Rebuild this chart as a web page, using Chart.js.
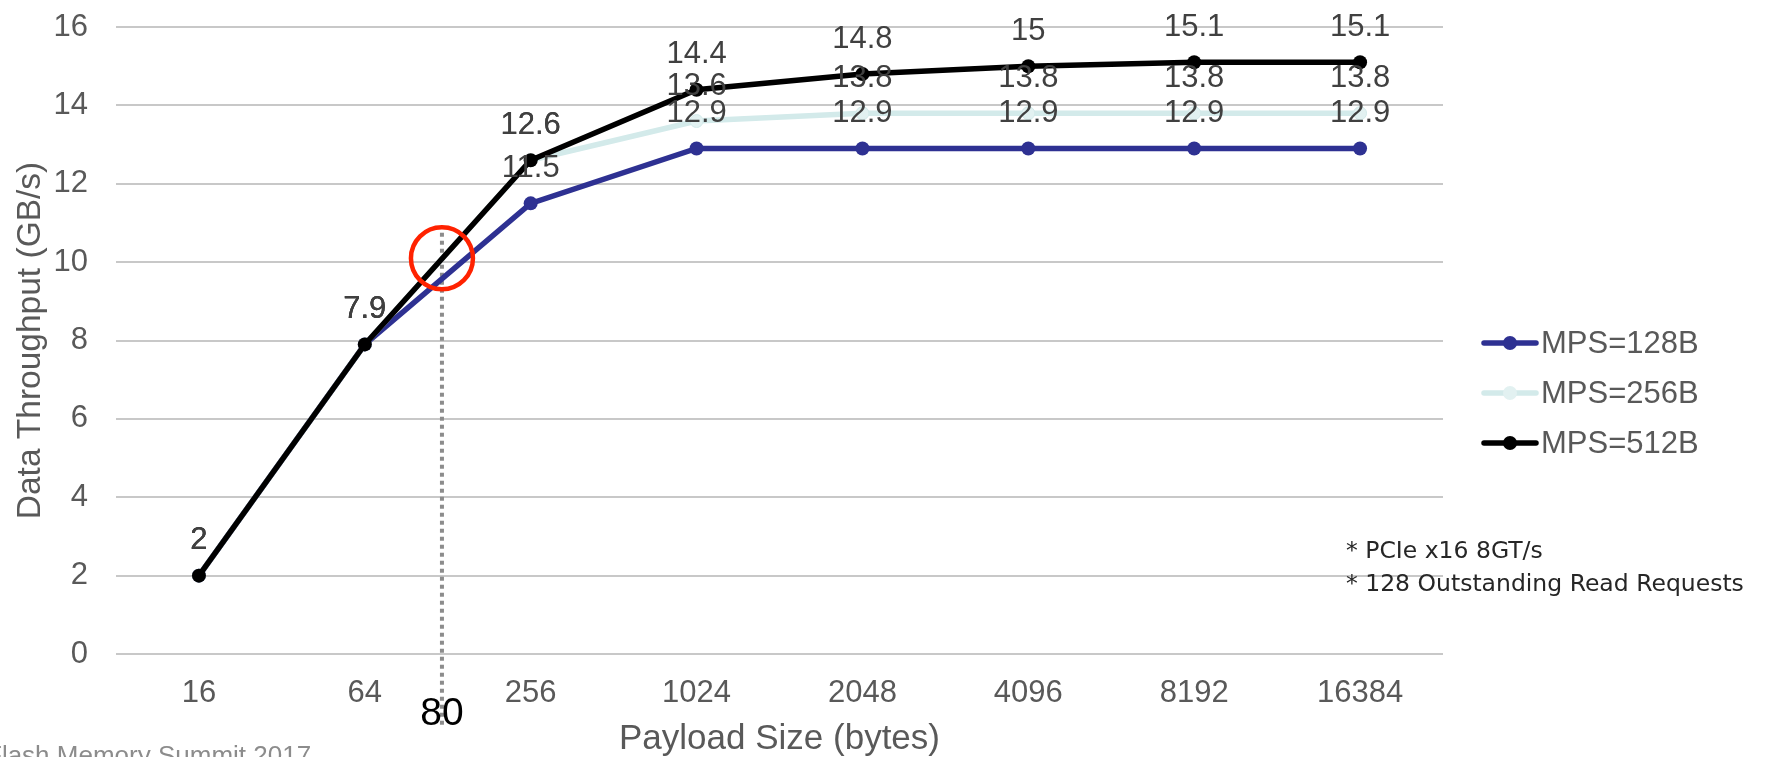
<!DOCTYPE html>
<html>
<head>
<meta charset="utf-8">
<script src="https://cdn.jsdelivr.net/npm/chart.js@4.4.1/dist/chart.umd.min.js"></script>
<style>
    html, body { margin: 0; padding: 0; background: #fff; }
    #wrap { width: 1777px; height: 757px; position: relative; overflow: hidden; }
</style>
</head>
<body>
<div id="wrap"><canvas id="throughputChart" width="1777" height="757"></canvas></div>
<script>
// payload sizes on the x axis (bytes)
const payloadSizes = ['16', '64', '256', '1024', '2048', '4096', '8192', '16384'];

// throughput in GB/s per max payload size setting
const mps128 = [2, 7.9, 11.5, 12.9, 12.9, 12.9, 12.9, 12.9];
const mps256 = [2, 7.9, 12.6, 13.6, 13.8, 13.8, 13.8, 13.8];
const mps512 = [2, 7.9, 12.6, 14.4, 14.8, 15, 15.1, 15.1];
const seriesNames = ['MPS=128B', 'MPS=256B', 'MPS=512B'];

// y axis range
const yMin = 0, yMax = 16, yStep = 2;

// crossover marker (category position between 64 and 256, throughput value)
const crossLabel = '80';
const crossAt = 1.465;
const crossValue = 10.1;
const dropFrom = 10.75, dropTo = -1.85;

const notes = ['* PCIe x16 8GT/s', '* 128 Outstanding Read Requests'];
const footer = 'Flash Memory Summit 2017';

const FONT = '"Liberation Sans", Arial, sans-serif';
const GREY = '#595959';

// dotted drop line at the crossover, behind the series
const dropLine = {
    id: 'dropLine',
    beforeDatasetsDraw(chart) {
        const { ctx, scales: { x, y } } = chart;
        const px = x.getPixelForValue(crossAt);
        ctx.save();
        ctx.strokeStyle = '#8c8c8c';
        ctx.lineWidth = 4;
        ctx.setLineDash([4, 4]);
        ctx.beginPath();
        ctx.moveTo(px, y.getPixelForValue(dropFrom));
        ctx.lineTo(px, y.getPixelForValue(dropTo));
        ctx.stroke();
        ctx.restore();
    }
};

// value labels above every point
const valueLabels = {
    id: 'valueLabels',
    afterDatasetsDraw(chart) {
        const { ctx } = chart;
        ctx.save();
        ctx.font = '31px ' + FONT;
        ctx.fillStyle = '#404040';
        ctx.textAlign = 'center';
        ctx.textBaseline = 'middle';
        chart.data.datasets.forEach((ds, i) => {
            chart.getDatasetMeta(i).data.forEach((pt, j) => {
                ctx.fillText(String(ds.data[j]), pt.x, pt.y - 35);
            });
        });
        ctx.restore();
    }
};

// circle, "80", legend, notes and footer
const extras = {
    id: 'extras',
    afterDraw(chart) {
        const { ctx, chartArea, scales: { x, y } } = chart;
        const px = x.getPixelForValue(crossAt);
        ctx.save();

        ctx.strokeStyle = '#ff2200';
        ctx.lineWidth = 4.5;
        ctx.beginPath();
        ctx.arc(px, y.getPixelForValue(crossValue), 31, 0, Math.PI * 2);
        ctx.stroke();

        ctx.fillStyle = '#000';
        ctx.font = '39px ' + FONT;
        ctx.textAlign = 'center';
        ctx.textBaseline = 'middle';
        ctx.fillText(crossLabel, px, chartArea.bottom + 60);

        // legend
        const lx = chartArea.right + 39;
        chart.data.datasets.forEach((ds, i) => {
            const ly = 343 + i * 50;
            ctx.strokeStyle = ds.borderColor;
            ctx.lineWidth = 5.5;
            ctx.lineCap = 'round';
            ctx.beginPath();
            ctx.moveTo(lx + 2, ly);
            ctx.lineTo(lx + 54, ly);
            ctx.stroke();
            ctx.fillStyle = ds.pointBackgroundColor;
            ctx.beginPath();
            ctx.arc(lx + 28, ly, 7, 0, Math.PI * 2);
            ctx.fill();
            ctx.fillStyle = GREY;
            ctx.font = '31px ' + FONT;
            ctx.textAlign = 'left';
            ctx.fillText(ds.label, lx + 59, ly + 1);
        });

        // notes
        ctx.fillStyle = '#262626';
        ctx.font = '23.5px "DejaVu Sans", sans-serif';
        ctx.textAlign = 'left';
        ctx.textBaseline = 'alphabetic';
        notes.forEach((t, i) => ctx.fillText(t, 1346, 558 + i * 33));

        // footer (cut off at the bottom edge)
        ctx.fillStyle = '#8c8c8c';
        ctx.font = '26px ' + FONT;
        ctx.fillText(footer, -14, 764);
        ctx.restore();
    }
};

new Chart(document.getElementById('throughputChart'), {
    type: 'line',
    data: {
        labels: payloadSizes,
        datasets: [
            {
                label: seriesNames[0],
                data: mps128,
                borderColor: '#2e3192',
                backgroundColor: '#2e3192',
                pointBackgroundColor: '#2e3192',
                pointBorderColor: '#2e3192',
                borderWidth: 5.5,
                pointRadius: 7,
                pointBorderWidth: 0,
                order: 2
            },
            {
                label: seriesNames[1],
                data: mps256,
                borderColor: '#d3eaea',
                backgroundColor: '#d3eaea',
                pointBackgroundColor: '#e2f1f1',
                pointBorderColor: '#d3eaea',
                borderWidth: 5.5,
                pointRadius: 6.5,
                pointBorderWidth: 1,
                order: 1
            },
            {
                label: seriesNames[2],
                data: mps512,
                borderColor: '#000000',
                backgroundColor: '#000000',
                pointBackgroundColor: '#000000',
                pointBorderColor: '#000000',
                borderWidth: 5.5,
                pointRadius: 7,
                pointBorderWidth: 0,
                order: 0
            }
        ]
    },
    options: {
        responsive: false,
        animation: false,
        layout: { padding: { top: 27, right: 334, bottom: 0, left: 0 } },
        elements: { line: { tension: 0 } },
        plugins: {
            legend: { display: false },
            tooltip: { enabled: false }
        },
        scales: {
            x: {
                offset: true,
                grid: { display: false, drawTicks: false },
                border: { display: false },
                ticks: {
                    color: GREY,
                    font: { family: FONT, size: 31 },
                    padding: 21,
                    maxRotation: 0,
                    autoSkip: false
                },
                title: {
                    display: true,
                    text: 'Payload Size (bytes)',
                    color: GREY,
                    font: { family: FONT, size: 35, lineHeight: 1 },
                    padding: 0
                },
                afterFit: (s) => { s.height = 103; }
            },
            y: {
                min: yMin,
                max: yMax,
                grid: { color: '#c8c8c8', lineWidth: 2, drawTicks: false },
                border: { display: false },
                ticks: {
                    stepSize: yStep,
                    color: GREY,
                    font: { family: FONT, size: 31 },
                    padding: 28
                },
                title: {
                    display: true,
                    text: 'Data Throughput (GB/s)',
                    color: GREY,
                    font: { family: FONT, size: 33.5, lineHeight: 1 },
                    padding: { top: 14, bottom: 0 }
                },
                afterFit: (s) => {
                    s.width = 116;
                    s.paddingTop = 0;
                    s.paddingBottom = 0;
                }
            }
        }
    },
    plugins: [dropLine, valueLabels, extras]
});
</script>
</body>
</html>
